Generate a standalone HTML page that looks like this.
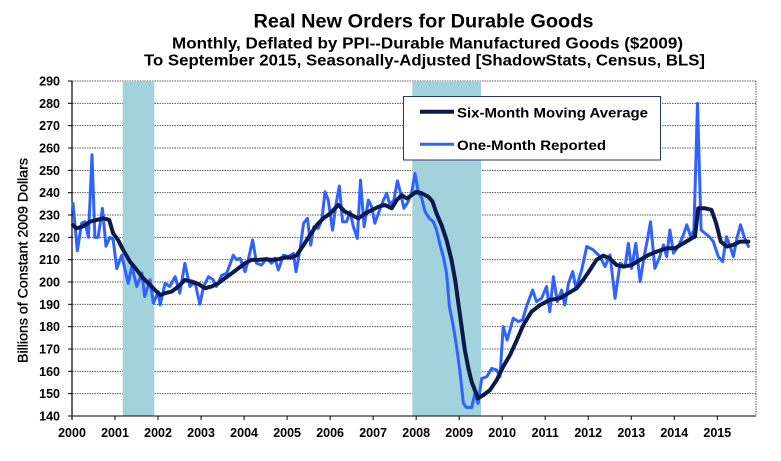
<!DOCTYPE html>
<html>
<head>
<meta charset="utf-8">
<style>
  html,body{margin:0;padding:0;background:#fff;}
  svg{display:block;}
  text{font-family:"Liberation Sans", Arial, sans-serif;fill:#000;}
</style>
</head>
<body>
<svg width="781" height="461" viewBox="0 0 781 461" xmlns="http://www.w3.org/2000/svg">
  <rect x="0" y="0" width="781" height="461" fill="#fff"/>

  <!-- Titles -->
  <text x="423.5" y="27.3" font-size="19" font-weight="bold" text-anchor="middle" textLength="340" lengthAdjust="spacingAndGlyphs">Real New Orders for Durable Goods</text>
  <text x="427.5" y="48.3" font-size="16" font-weight="bold" text-anchor="middle" textLength="511" lengthAdjust="spacingAndGlyphs">Monthly, Deflated by PPI--Durable Manufactured Goods ($2009)</text>
  <text x="424.5" y="65.5" font-size="16" font-weight="bold" text-anchor="middle" textLength="561" lengthAdjust="spacingAndGlyphs">To September 2015, Seasonally-Adjusted [ShadowStats, Census, BLS]</text>

  <!-- Gridlines -->
  <g stroke="#5a5a5a" stroke-width="1" stroke-dasharray="1.5 1">
    <line x1="72" x2="756" y1="81" y2="81"/>
    <line x1="72" x2="756" y1="103.33" y2="103.33"/>
    <line x1="72" x2="756" y1="125.67" y2="125.67"/>
    <line x1="72" x2="756" y1="148" y2="148"/>
    <line x1="72" x2="756" y1="170.33" y2="170.33"/>
    <line x1="72" x2="756" y1="192.67" y2="192.67"/>
    <line x1="72" x2="756" y1="215" y2="215"/>
    <line x1="72" x2="756" y1="237.33" y2="237.33"/>
    <line x1="72" x2="756" y1="259.67" y2="259.67"/>
    <line x1="72" x2="756" y1="282" y2="282"/>
    <line x1="72" x2="756" y1="304.33" y2="304.33"/>
    <line x1="72" x2="756" y1="326.67" y2="326.67"/>
    <line x1="72" x2="756" y1="349" y2="349"/>
    <line x1="72" x2="756" y1="371.33" y2="371.33"/>
    <line x1="72" x2="756" y1="393.67" y2="393.67"/>
    <line x1="756" x2="756" y1="81" y2="416"/>
  </g>

  <!-- Recession shading -->
  <rect x="122.7" y="81" width="31.6" height="335" fill="#a2d3dc"/>
  <rect x="412.3" y="81" width="68.7" height="335" fill="#a2d3dc"/>

  <!-- Axes -->
  <line x1="72" x2="72" y1="81" y2="420" stroke="#000" stroke-width="1.2"/>
  <line x1="68" x2="756" y1="416" y2="416" stroke="#333" stroke-width="1.2"/>
  <g stroke="#000" stroke-width="1">
    <line x1="68" x2="72" y1="81" y2="81"/>
    <line x1="68" x2="72" y1="103.33" y2="103.33"/>
    <line x1="68" x2="72" y1="125.67" y2="125.67"/>
    <line x1="68" x2="72" y1="148" y2="148"/>
    <line x1="68" x2="72" y1="170.33" y2="170.33"/>
    <line x1="68" x2="72" y1="192.67" y2="192.67"/>
    <line x1="68" x2="72" y1="215" y2="215"/>
    <line x1="68" x2="72" y1="237.33" y2="237.33"/>
    <line x1="68" x2="72" y1="259.67" y2="259.67"/>
    <line x1="68" x2="72" y1="282" y2="282"/>
    <line x1="68" x2="72" y1="304.33" y2="304.33"/>
    <line x1="68" x2="72" y1="326.67" y2="326.67"/>
    <line x1="68" x2="72" y1="349" y2="349"/>
    <line x1="68" x2="72" y1="371.33" y2="371.33"/>
    <line x1="68" x2="72" y1="393.67" y2="393.67"/>
    <line x1="115.02" x2="115.02" y1="416" y2="420"/>
    <line x1="158.04" x2="158.04" y1="416" y2="420"/>
    <line x1="201.06" x2="201.06" y1="416" y2="420"/>
    <line x1="244.08" x2="244.08" y1="416" y2="420"/>
    <line x1="287.1" x2="287.1" y1="416" y2="420"/>
    <line x1="330.12" x2="330.12" y1="416" y2="420"/>
    <line x1="373.14" x2="373.14" y1="416" y2="420"/>
    <line x1="416.16" x2="416.16" y1="416" y2="420"/>
    <line x1="459.18" x2="459.18" y1="416" y2="420"/>
    <line x1="502.2" x2="502.2" y1="416" y2="420"/>
    <line x1="545.22" x2="545.22" y1="416" y2="420"/>
    <line x1="588.24" x2="588.24" y1="416" y2="420"/>
    <line x1="631.26" x2="631.26" y1="416" y2="420"/>
    <line x1="674.28" x2="674.28" y1="416" y2="420"/>
    <line x1="717.3" x2="717.3" y1="416" y2="420"/>
  </g>

  <!-- Y tick labels -->
  <g font-size="12.5" font-weight="bold" text-anchor="end">
    <text x="60" y="85.5">290</text>
    <text x="60" y="107.8">280</text>
    <text x="60" y="130.2">270</text>
    <text x="60" y="152.5">260</text>
    <text x="60" y="174.8">250</text>
    <text x="60" y="197.2">240</text>
    <text x="60" y="219.5">230</text>
    <text x="60" y="241.8">220</text>
    <text x="60" y="264.2">210</text>
    <text x="60" y="286.5">200</text>
    <text x="60" y="308.8">190</text>
    <text x="60" y="331.2">180</text>
    <text x="60" y="353.5">170</text>
    <text x="60" y="375.8">160</text>
    <text x="60" y="398.2">150</text>
    <text x="60" y="420.5">140</text>
  </g>

  <!-- X tick labels -->
  <g font-size="12.5" font-weight="bold" text-anchor="middle">
    <text x="72" y="437">2000</text>
    <text x="115.02" y="437">2001</text>
    <text x="158.04" y="437">2002</text>
    <text x="201.06" y="437">2003</text>
    <text x="244.08" y="437">2004</text>
    <text x="287.1" y="437">2005</text>
    <text x="330.12" y="437">2006</text>
    <text x="373.14" y="437">2007</text>
    <text x="416.16" y="437">2008</text>
    <text x="459.18" y="437">2009</text>
    <text x="502.2" y="437">2010</text>
    <text x="545.22" y="437">2011</text>
    <text x="588.24" y="437">2012</text>
    <text x="631.26" y="437">2013</text>
    <text x="674.28" y="437">2014</text>
    <text x="717.3" y="437">2015</text>
  </g>

  <!-- Y axis title -->
  <text transform="translate(27.5,260.5) rotate(-90)" font-size="13.5" text-anchor="middle" textLength="205" lengthAdjust="spacingAndGlyphs" stroke="#000" stroke-width="0.35">Billions  of Constant 2009 Dollars</text>

  <!-- Data series -->
  <g transform="matrix(3.585 0 0 -2.2333 73 728.67)" fill="none" stroke-linejoin="round" stroke-linecap="round">
    <polyline vector-effect="non-scaling-stroke" stroke="#2f62ff" stroke-width="3" points="
0,235.2 1.2,214 2.4,226.3 3.3,227 4.3,220 5.3,257 6.1,220 7,220 8.2,233 9.2,216 10.3,220 11.2,219
12.2,206 13.6,212 15.4,199.4 16.4,207 17.8,198 19.2,204 20,193.5 21.5,201 22.4,190.5 23.8,195.7
24.3,189.7 25.7,199.4 27,198 28.5,202.4 29.8,195 31.2,208.4 32.6,198 34,200 35.4,190
36.4,198 37.8,202.4 39.1,201 40,198 41.5,203 42.9,204 44.7,212 45.6,210 46.6,210.6
48,204.6 48.9,210 50.1,218.8 51.2,208.4 52.6,207.6 54,210.6 55.4,208.4 56.3,210.6 57.3,205.4 58.7,212
60.1,211.4 61.5,212.8 62.2,204.6 63.3,214.3 64.3,226.3 65.4,228.5 66.3,216.5 67.2,224.8 68.4,224 69.4,227.7 70.3,240.4 71.2,236.7
72.4,223.2 73.4,235.2 74.3,243 75.2,227 76.3,227 77.3,231.5 78.2,224.8 79.3,219.5 80.2,245.6 81.2,224.8 82.4,236.7 83.3,233.7
84.2,226.3 85.5,232.2 86.6,236.7 87.5,239.7 88.4,234.5 89.5,236.7 90.5,245.3 91.4,239.7 92.3,233 93.5,236 94.5,240.4 95.4,248.6
96.3,240.4 97.3,237.4 98.2,231.5 99.4,228.5 100.5,227 101.4,223.3 102.4,216.5 103.3,211.3 104.2,203.9 105,189 106.1,180 107,171
108,159 108.9,145.6 109.8,143.8 111.2,143.8 112.1,150.1 113,145.6 114,156.8 115.4,157.6 116.8,161.3 118.2,160.6 119.1,157.6
120,180 121.1,174 122.8,183.8 124.2,182.3 125.4,183 126.5,189 128.2,196.4 129.3,191.2 130.7,192.7 132.1,198
133,186.7 134,202.4 135.1,191.2 136.3,196.4 137.2,189.7 138.2,199.4 139.4,204.7 140.3,197.2 141.9,205.4 143.3,215.9
145.1,214.4 147,211.4 148.4,206.9 149.8,212.1 151.2,192.7 152.6,208.4 154,206.9 154.9,217.3 155.8,206.1 157,217.3
158.2,200.2 159.3,211.4 160.2,218.8 161.1,227 162.3,206.1 163.5,210.6 164.7,216.6 165.6,211.4 166.5,223.3 167.5,212.9
168.8,215.9 170.1,220.3 171.2,225.6 172.3,220.3 173.2,223.3 174.2,280 175.2,223.3 176.3,221.8 177.5,220.3 178.6,218.1
180,211.4 181.2,209.1 182.3,220.3 183.3,215.9 184.2,211.4 185.3,220.3 186.2,225.6 187.2,220.3 188.4,215.9"/>
    <polyline vector-effect="non-scaling-stroke" stroke="#0b1a4a" stroke-width="4" points="
0,225.5 1,224 2.9,225 4.7,227 6.6,227.8 8.5,228.5 10.1,227.8 11.2,221.8 12.6,218.8 14,214.3 15.9,209.1 17.8,205.4
19.6,201.7 21.5,198.7 22.9,196.4 24.3,194.2 25.7,195 27.5,195.7 29.4,198 31.2,200.9 33.1,200.2 35,199.1 36.8,197.2
38.7,198 40.5,199.4 42.4,201.7 44.3,203.9 46.1,206.1 48,208.4 49.8,209.9 51.7,209.9 53.6,210.2 55.4,209.9 57.3,210.2
59.1,211 61,211 62.4,212 64.3,216.5 66.1,221 68,225.5 69.8,228.5 71.7,230.7 74,234.5 75.9,231.5 77.7,230 79.6,228.5
81.5,230.7 83.3,232.2 85.2,233.7 87,234.5 88.9,233 90.3,236.7 91.7,238.9 93.1,237.4 94.5,238.9 95.7,240.4 97.3,239.7
99.1,238.2 100.3,236 101.4,230.7 102.8,225.5 104.2,218.8 105.6,209.8 106.6,200.9 107.5,190.4 108.4,180 109.3,169.5
110.3,161.3 111.2,155.3 112.1,151.6 113,147.9 114.5,149.4 116.3,151.6 118.2,156.1 120,162.1 121.9,167.3 123.8,174
125.6,180.7 127.9,186.7 130.3,189.7 133,192 135.8,192.7 138.2,195 140.5,197.2 142.3,200.9 144.2,205.4 146,209.9
147.9,211.8 149.8,210.6 151.6,207.6 153.5,206.9 155.8,207.6 158.2,209.9 160.5,212.1 162.8,213.6 165.6,215.1 167.9,215.1
170.2,217.3 172.6,219.6 173.5,220.3 174.4,233 176.3,233 178.1,232.3 179.4,226.3 180.7,218.1 182.3,215.9 184.2,216.6
186.1,218.1 188.4,218.1"/>
  </g>

  <!-- Legend -->
  <rect x="403.5" y="96.5" width="257" height="63.5" fill="#fff" stroke="#2a3670" stroke-width="1"/>
  <line x1="420" x2="454" y1="111.7" y2="111.7" stroke="#0b1a4a" stroke-width="4"/>
  <line x1="420" x2="454" y1="144.3" y2="144.3" stroke="#2f62ff" stroke-width="3"/>
  <text x="457" y="117.3" font-size="14" font-weight="bold" textLength="191" lengthAdjust="spacingAndGlyphs">Six-Month Moving Average</text>
  <text x="457" y="150" font-size="14" font-weight="bold" textLength="149" lengthAdjust="spacingAndGlyphs">One-Month Reported</text>
</svg>
</body>
</html>
